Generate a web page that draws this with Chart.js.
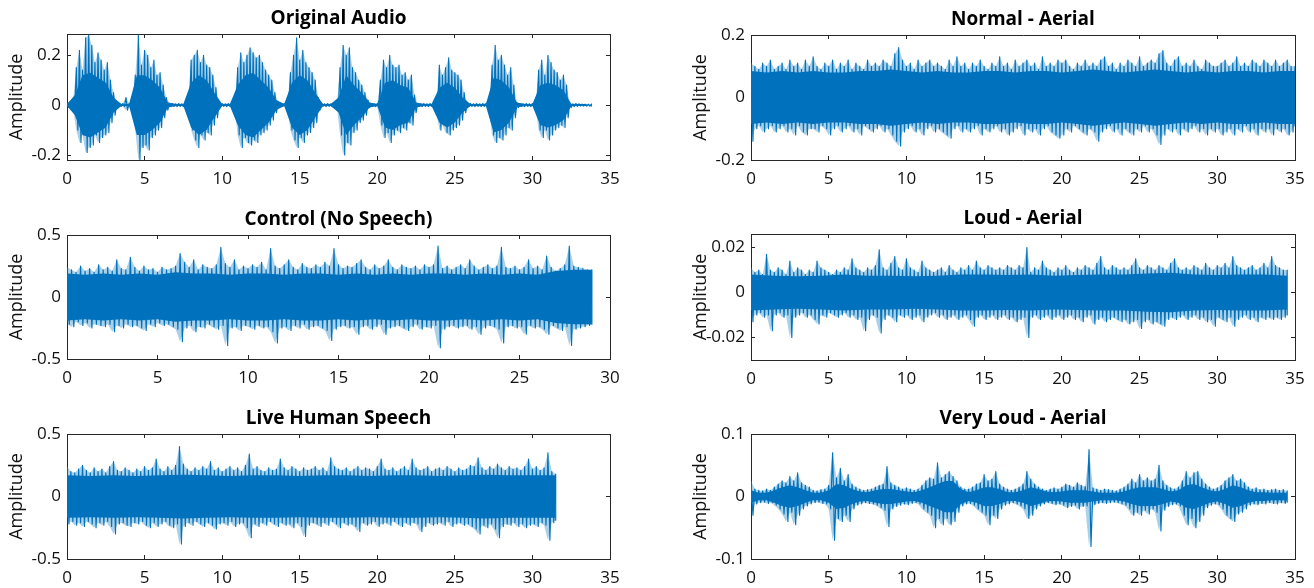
<!DOCTYPE html>
<html>
<head>
<meta charset="utf-8">
<title>Audio waveforms</title>
<script src="https://cdn.jsdelivr.net/npm/chart.js@4.4.1/dist/chart.umd.min.js"></script>
<style>
  html, body { margin: 0; padding: 0; background: #ffffff; }
  #wrap { position: relative; width: 1314px; height: 588px; overflow: hidden; background: #ffffff; }
  #wrap canvas { position: absolute; }
</style>
</head>
<body>
<div id="wrap">
  <canvas id="pOriginal"></canvas>
  <canvas id="pNormal"></canvas>
  <canvas id="pControl"></canvas>
  <canvas id="pLoud"></canvas>
  <canvas id="pLive"></canvas>
  <canvas id="pVeryLoud"></canvas>
</div>
<script>
// ---- Tick values ----
const xTicks35 = [0, 5, 10, 15, 20, 25, 30, 35];
const xTicks30 = [0, 5, 10, 15, 20, 25, 30];
const yTicksOriginal = [-0.2, 0, 0.2];
const yTicksNormal = [-0.2, 0, 0.2];
const yTicksHalf = [-0.5, 0, 0.5];
const yTicksLoud = [-0.02, 0, 0.02];
const yTicksVeryLoud = [-0.1, 0, 0.1];

// ---- Waveform peaks (upper / lower amplitude per time step) ----
// Original Audio, one value every 0.2 s
const originalHi = [
  0.010, 0.012, 0.020, 0.150, 0.220, 0.140, 0.270, 0.280, 0.240, 0.170,
  0.210, 0.180, 0.140, 0.170, 0.100, 0.050, 0.008, 0.006, 0.006, 0.030,
  0.006, 0.010, 0.120, 0.280, 0.160, 0.220, 0.200, 0.150, 0.180, 0.120,
  0.130, 0.080, 0.030, 0.008, 0.006, 0.005, 0.006, 0.005, 0.006, 0.020,
  0.180, 0.200, 0.220, 0.170, 0.200, 0.160, 0.150, 0.120, 0.070, 0.010,
  0.006, 0.005, 0.006, 0.005, 0.010, 0.150, 0.210, 0.170, 0.200, 0.230,
  0.210, 0.190, 0.200, 0.170, 0.140, 0.120, 0.100, 0.050, 0.008, 0.006,
  0.006, 0.010, 0.130, 0.200, 0.270, 0.180, 0.220, 0.170, 0.150, 0.130,
  0.100, 0.030, 0.006, 0.005, 0.006, 0.005, 0.006, 0.008, 0.150, 0.240,
  0.200, 0.230, 0.150, 0.130, 0.100, 0.080, 0.050, 0.020, 0.006, 0.005,
  0.006, 0.100, 0.180, 0.150, 0.200, 0.160, 0.150, 0.160, 0.120, 0.130,
  0.100, 0.120, 0.040, 0.006, 0.005, 0.006, 0.005, 0.006, 0.005, 0.020,
  0.160, 0.120, 0.150, 0.190, 0.140, 0.130, 0.120, 0.100, 0.050, 0.008,
  0.006, 0.005, 0.006, 0.005, 0.006, 0.006, 0.020, 0.160, 0.240, 0.180,
  0.200, 0.160, 0.120, 0.150, 0.080, 0.010, 0.006, 0.005, 0.006, 0.005,
  0.006, 0.010, 0.140, 0.180, 0.120, 0.200, 0.170, 0.140, 0.130, 0.100,
  0.120, 0.080, 0.010, 0.005, 0.006, 0.005, 0.004, 0.004, 0.004, 0.004
];
const originalLo = [
  -0.008, -0.010, -0.020, -0.100, -0.150, -0.120, -0.190, -0.170, -0.160, -0.120,
  -0.150, -0.130, -0.120, -0.110, -0.070, -0.040, -0.006, -0.005, -0.006, -0.020,
  -0.006, -0.010, -0.100, -0.220, -0.170, -0.160, -0.180, -0.130, -0.120, -0.100,
  -0.090, -0.050, -0.020, -0.006, -0.005, -0.006, -0.005, -0.006, -0.005, -0.015,
  -0.100, -0.140, -0.170, -0.120, -0.140, -0.110, -0.120, -0.080, -0.050, -0.008,
  -0.005, -0.006, -0.005, -0.006, -0.008, -0.120, -0.170, -0.130, -0.150, -0.160,
  -0.140, -0.150, -0.120, -0.110, -0.100, -0.080, -0.060, -0.030, -0.006, -0.005,
  -0.006, -0.008, -0.100, -0.140, -0.170, -0.130, -0.150, -0.120, -0.110, -0.090,
  -0.070, -0.020, -0.005, -0.006, -0.005, -0.006, -0.005, -0.008, -0.120, -0.200,
  -0.150, -0.160, -0.110, -0.100, -0.070, -0.060, -0.040, -0.010, -0.005, -0.006,
  -0.005, -0.080, -0.130, -0.110, -0.150, -0.120, -0.100, -0.110, -0.090, -0.100,
  -0.070, -0.080, -0.030, -0.005, -0.006, -0.005, -0.006, -0.005, -0.006, -0.020,
  -0.100, -0.080, -0.110, -0.120, -0.100, -0.090, -0.080, -0.060, -0.030, -0.006,
  -0.005, -0.006, -0.005, -0.006, -0.005, -0.006, -0.020, -0.120, -0.150, -0.130,
  -0.140, -0.120, -0.090, -0.100, -0.050, -0.010, -0.005, -0.006, -0.005, -0.006,
  -0.005, -0.010, -0.100, -0.130, -0.100, -0.140, -0.120, -0.100, -0.090, -0.080,
  -0.090, -0.050, -0.010, -0.006, -0.005, -0.004, -0.004, -0.004, -0.004, -0.004
];
// Dense core of the Original Audio trace (half-width), one value every 0.5 s
const originalCore = [
  0.004, 0.040, 0.120, 0.130, 0.110, 0.090, 0.030, 0.004, 0.004, 0.120,
  0.120, 0.100, 0.070, 0.010, 0.004, 0.004, 0.090, 0.120, 0.100, 0.050,
  0.004, 0.004, 0.080, 0.120, 0.130, 0.100, 0.070, 0.020, 0.004, 0.090,
  0.120, 0.100, 0.050, 0.004, 0.004, 0.030, 0.120, 0.080, 0.050, 0.010,
  0.004, 0.090, 0.100, 0.080, 0.070, 0.010, 0.004, 0.004, 0.070, 0.090,
  0.070, 0.030, 0.004, 0.004, 0.004, 0.110, 0.100, 0.070, 0.010, 0.004,
  0.004, 0.080, 0.090, 0.080, 0.060, 0.004, 0.004, 0.004
];

// Normal - Aerial, one value every 0.25 s
const normalHi = [
  0.11, 0.10, 0.09, 0.11, 0.10, 0.12, 0.09, 0.10,
  0.11, 0.09, 0.12, 0.10, 0.11, 0.09, 0.12, 0.10,
  0.13, 0.10, 0.09, 0.11, 0.10, 0.12, 0.09, 0.11,
  0.10, 0.12, 0.09, 0.11, 0.10, 0.09, 0.12, 0.10,
  0.11, 0.10, 0.12, 0.11, 0.10, 0.14, 0.16, 0.12,
  0.10, 0.11, 0.09, 0.12, 0.10, 0.11, 0.12, 0.10,
  0.11, 0.10, 0.09, 0.12, 0.10, 0.13, 0.10, 0.11,
  0.09, 0.11, 0.10, 0.12, 0.10, 0.09, 0.11, 0.10,
  0.13, 0.10, 0.11, 0.09, 0.12, 0.10, 0.11, 0.12,
  0.10, 0.11, 0.09, 0.13, 0.10, 0.11, 0.10, 0.12,
  0.11, 0.12, 0.10, 0.09, 0.11, 0.10, 0.12, 0.10,
  0.11, 0.10, 0.12, 0.13, 0.10, 0.11, 0.09, 0.11,
  0.10, 0.12, 0.11, 0.10, 0.13, 0.10, 0.11, 0.12,
  0.11, 0.14, 0.15, 0.11, 0.10, 0.12, 0.13, 0.10,
  0.11, 0.10, 0.12, 0.10, 0.09, 0.12, 0.11, 0.10,
  0.10, 0.11, 0.12, 0.10, 0.11, 0.13, 0.10, 0.11,
  0.10, 0.12, 0.11, 0.10, 0.12, 0.11, 0.10, 0.12,
  0.10, 0.11, 0.12, 0.10, 0.10
];
const normalLo = [
  -0.14, -0.10, -0.09, -0.11, -0.10, -0.09, -0.11, -0.10,
  -0.09, -0.11, -0.10, -0.12, -0.09, -0.11, -0.12, -0.10,
  -0.10, -0.11, -0.09, -0.10, -0.12, -0.10, -0.09, -0.11,
  -0.10, -0.09, -0.11, -0.10, -0.12, -0.09, -0.10, -0.11,
  -0.10, -0.09, -0.11, -0.10, -0.12, -0.14, -0.155, -0.11,
  -0.10, -0.09, -0.11, -0.10, -0.12, -0.10, -0.09, -0.11,
  -0.10, -0.11, -0.12, -0.13, -0.10, -0.09, -0.11, -0.10,
  -0.11, -0.10, -0.09, -0.12, -0.10, -0.11, -0.10, -0.09,
  -0.11, -0.10, -0.12, -0.11, -0.10, -0.09, -0.12, -0.10,
  -0.11, -0.10, -0.12, -0.10, -0.09, -0.11, -0.12, -0.13,
  -0.12, -0.10, -0.11, -0.09, -0.10, -0.11, -0.12, -0.10,
  -0.11, -0.14, -0.11, -0.10, -0.09, -0.11, -0.10, -0.12,
  -0.10, -0.11, -0.12, -0.10, -0.11, -0.09, -0.11, -0.10,
  -0.12, -0.15, -0.12, -0.10, -0.11, -0.10, -0.12, -0.10,
  -0.11, -0.10, -0.09, -0.11, -0.10, -0.12, -0.10, -0.11,
  -0.10, -0.12, -0.11, -0.10, -0.12, -0.10, -0.11, -0.09,
  -0.11, -0.10, -0.12, -0.10, -0.11, -0.10, -0.12, -0.10,
  -0.11, -0.10, -0.12, -0.11, -0.09
];
// Dense core, one value every 1 s
const normalCore = [
  0.085, 0.080, 0.085, 0.080, 0.085, 0.080, 0.080, 0.085, 0.085, 0.090,
  0.085, 0.080, 0.085, 0.080, 0.080, 0.085, 0.085, 0.080, 0.085, 0.085,
  0.080, 0.085, 0.090, 0.085, 0.080, 0.085, 0.090, 0.085, 0.080, 0.085,
  0.080, 0.085, 0.085, 0.080, 0.085, 0.085
];

// Control (No Speech), one value every 0.25 s
const controlHi = [
  0.24, 0.22, 0.20, 0.25, 0.21, 0.23, 0.20, 0.26,
  0.22, 0.24, 0.21, 0.30, 0.23, 0.22, 0.32, 0.24,
  0.21, 0.25, 0.22, 0.23, 0.20, 0.24, 0.22, 0.23,
  0.25, 0.35, 0.28, 0.24, 0.30, 0.22, 0.26, 0.24,
  0.23, 0.26, 0.40, 0.27, 0.24, 0.30, 0.22, 0.25,
  0.23, 0.26, 0.24, 0.28, 0.22, 0.39, 0.25, 0.23,
  0.26, 0.30, 0.24, 0.22, 0.27, 0.24, 0.23, 0.26,
  0.24, 0.28, 0.25, 0.39, 0.26, 0.23, 0.25, 0.24,
  0.27, 0.30, 0.24, 0.22, 0.26, 0.23, 0.25, 0.30,
  0.24, 0.22, 0.26, 0.24, 0.23, 0.25, 0.22, 0.26,
  0.24, 0.26, 0.41, 0.23, 0.25, 0.22, 0.24, 0.26,
  0.23, 0.30, 0.25, 0.22, 0.24, 0.26, 0.23, 0.25,
  0.40, 0.24, 0.23, 0.25, 0.22, 0.24, 0.30, 0.23,
  0.25, 0.22, 0.33, 0.24, 0.21, 0.23, 0.26, 0.41,
  0.25, 0.24, 0.23, 0.22, 0.22
];
const controlLo = [
  -0.22, -0.24, -0.20, -0.23, -0.21, -0.25, -0.22, -0.23,
  -0.24, -0.22, -0.28, -0.23, -0.25, -0.22, -0.24, -0.23,
  -0.25, -0.27, -0.22, -0.24, -0.21, -0.23, -0.22, -0.24,
  -0.26, -0.36, -0.25, -0.23, -0.28, -0.24, -0.25, -0.22,
  -0.24, -0.26, -0.23, -0.39, -0.25, -0.24, -0.27, -0.23,
  -0.24, -0.26, -0.23, -0.25, -0.24, -0.28, -0.37, -0.25,
  -0.24, -0.27, -0.23, -0.25, -0.22, -0.26, -0.24, -0.23,
  -0.25, -0.27, -0.35, -0.26, -0.24, -0.23, -0.25, -0.24,
  -0.30, -0.24, -0.23, -0.26, -0.24, -0.22, -0.30, -0.25,
  -0.24, -0.23, -0.25, -0.27, -0.24, -0.22, -0.26, -0.24,
  -0.25, -0.23, -0.41, -0.26, -0.24, -0.23, -0.25, -0.24,
  -0.23, -0.26, -0.24, -0.30, -0.25, -0.23, -0.24, -0.26,
  -0.37, -0.24, -0.23, -0.25, -0.24, -0.30, -0.23, -0.25,
  -0.24, -0.26, -0.30, -0.23, -0.25, -0.27, -0.24, -0.39,
  -0.26, -0.25, -0.24, -0.23, -0.22
];
// Dense core, one value every 1 s
const controlCore = [
  0.19, 0.18, 0.19, 0.18, 0.19, 0.18, 0.20, 0.19, 0.19, 0.18,
  0.19, 0.19, 0.18, 0.19, 0.19, 0.18, 0.19, 0.18, 0.19, 0.18,
  0.19, 0.19, 0.18, 0.19, 0.18, 0.19, 0.18, 0.21, 0.22, 0.22
];

// Loud - Aerial, one value every 0.25 s
const loudHi = [
  0.011, 0.009, 0.010, 0.008, 0.017, 0.010, 0.009, 0.011,
  0.010, 0.008, 0.014, 0.009, 0.011, 0.010, 0.008, 0.010,
  0.009, 0.014, 0.011, 0.010, 0.009, 0.008, 0.010, 0.009,
  0.011, 0.010, 0.015, 0.011, 0.010, 0.009, 0.011, 0.010,
  0.012, 0.019, 0.011, 0.010, 0.013, 0.016, 0.011, 0.010,
  0.015, 0.011, 0.010, 0.009, 0.014, 0.011, 0.010, 0.009,
  0.010, 0.011, 0.009, 0.012, 0.010, 0.009, 0.011, 0.010,
  0.012, 0.010, 0.014, 0.011, 0.010, 0.012, 0.011, 0.010,
  0.011, 0.010, 0.012, 0.011, 0.010, 0.012, 0.011, 0.020,
  0.009, 0.011, 0.010, 0.014, 0.011, 0.010, 0.009, 0.011,
  0.010, 0.012, 0.010, 0.009, 0.011, 0.010, 0.012, 0.011,
  0.010, 0.013, 0.016, 0.011, 0.010, 0.012, 0.011, 0.010,
  0.011, 0.010, 0.012, 0.015, 0.011, 0.010, 0.012, 0.011,
  0.010, 0.012, 0.011, 0.010, 0.013, 0.015, 0.011, 0.010,
  0.011, 0.010, 0.012, 0.011, 0.010, 0.013, 0.011, 0.010,
  0.012, 0.011, 0.013, 0.011, 0.016, 0.012, 0.011, 0.010,
  0.011, 0.012, 0.010, 0.011, 0.013, 0.011, 0.016, 0.012,
  0.011, 0.010, 0.010
];
const loudLo = [
  -0.013, -0.010, -0.009, -0.011, -0.010, -0.017, -0.010, -0.009,
  -0.011, -0.010, -0.020, -0.011, -0.010, -0.009, -0.011, -0.010,
  -0.012, -0.014, -0.010, -0.011, -0.009, -0.010, -0.011, -0.010,
  -0.009, -0.011, -0.010, -0.012, -0.011, -0.017, -0.012, -0.010,
  -0.011, -0.018, -0.012, -0.010, -0.011, -0.013, -0.010, -0.011,
  -0.010, -0.012, -0.011, -0.010, -0.013, -0.011, -0.010, -0.009,
  -0.011, -0.010, -0.012, -0.011, -0.010, -0.012, -0.011, -0.010,
  -0.012, -0.015, -0.011, -0.010, -0.012, -0.011, -0.010, -0.012,
  -0.011, -0.010, -0.012, -0.011, -0.013, -0.012, -0.011, -0.020,
  -0.011, -0.010, -0.012, -0.011, -0.010, -0.012, -0.011, -0.010,
  -0.012, -0.011, -0.010, -0.012, -0.011, -0.013, -0.011, -0.010,
  -0.014, -0.012, -0.011, -0.013, -0.012, -0.011, -0.012, -0.013,
  -0.012, -0.014, -0.013, -0.012, -0.016, -0.013, -0.012, -0.014,
  -0.013, -0.014, -0.015, -0.012, -0.011, -0.012, -0.011, -0.010,
  -0.012, -0.011, -0.010, -0.012, -0.011, -0.013, -0.012, -0.015,
  -0.011, -0.012, -0.013, -0.011, -0.015, -0.012, -0.011, -0.010,
  -0.012, -0.011, -0.013, -0.011, -0.012, -0.011, -0.012, -0.011,
  -0.012, -0.011, -0.010
];
// Dense core, one value every 1.5 s
const loudCore = [
  0.0080, 0.0075, 0.0072, 0.0075, 0.0080, 0.0075, 0.0075, 0.0072, 0.0075, 0.0080,
  0.0080, 0.0078, 0.0080, 0.0075, 0.0078, 0.0080, 0.0080, 0.0085, 0.0088, 0.0080,
  0.0078, 0.0080, 0.0080, 0.0075
];

// Live Human Speech, one value every 0.25 s
const liveHi = [
  0.24, 0.20, 0.19, 0.22, 0.25, 0.21, 0.19, 0.23,
  0.20, 0.22, 0.19, 0.24, 0.28, 0.21, 0.20, 0.23,
  0.21, 0.19, 0.22, 0.20, 0.24, 0.21, 0.23, 0.30,
  0.22, 0.20, 0.24, 0.21, 0.25, 0.40, 0.26, 0.22,
  0.20, 0.23, 0.21, 0.24, 0.22, 0.28, 0.21, 0.23,
  0.20, 0.22, 0.24, 0.21, 0.23, 0.20, 0.25, 0.34,
  0.22, 0.24, 0.21, 0.20, 0.23, 0.21, 0.22, 0.30,
  0.23, 0.21, 0.24, 0.22, 0.20, 0.23, 0.21, 0.22,
  0.24, 0.21, 0.23, 0.20, 0.31, 0.24, 0.22, 0.21,
  0.23, 0.20, 0.22, 0.24, 0.21, 0.23, 0.22, 0.20,
  0.24, 0.30, 0.22, 0.21, 0.23, 0.20, 0.22, 0.24,
  0.21, 0.30, 0.23, 0.21, 0.22, 0.24, 0.20, 0.22,
  0.23, 0.21, 0.24, 0.22, 0.20, 0.23, 0.21, 0.22,
  0.25, 0.24, 0.31, 0.23, 0.21, 0.24, 0.22, 0.26,
  0.23, 0.21, 0.24, 0.22, 0.23, 0.21, 0.24, 0.30,
  0.22, 0.24, 0.21, 0.23, 0.35, 0.20, 0.18
];
const liveLo = [
  -0.22, -0.20, -0.23, -0.21, -0.24, -0.20, -0.22, -0.25,
  -0.21, -0.23, -0.20, -0.24, -0.30, -0.22, -0.21, -0.23,
  -0.24, -0.21, -0.22, -0.20, -0.23, -0.25, -0.21, -0.24,
  -0.22, -0.20, -0.23, -0.25, -0.22, -0.38, -0.24, -0.21,
  -0.23, -0.20, -0.22, -0.24, -0.21, -0.23, -0.26, -0.22,
  -0.21, -0.23, -0.20, -0.24, -0.22, -0.21, -0.25, -0.33,
  -0.22, -0.24, -0.21, -0.23, -0.20, -0.22, -0.24, -0.21,
  -0.23, -0.22, -0.25, -0.21, -0.24, -0.32, -0.23, -0.21,
  -0.22, -0.24, -0.21, -0.23, -0.20, -0.22, -0.25, -0.21,
  -0.23, -0.22, -0.24, -0.28, -0.21, -0.23, -0.22, -0.20,
  -0.24, -0.22, -0.21, -0.23, -0.20, -0.22, -0.24, -0.21,
  -0.23, -0.21, -0.22, -0.28, -0.24, -0.21, -0.23, -0.22,
  -0.21, -0.23, -0.20, -0.24, -0.22, -0.21, -0.23, -0.22,
  -0.24, -0.26, -0.30, -0.23, -0.25, -0.22, -0.26, -0.33,
  -0.24, -0.22, -0.23, -0.21, -0.24, -0.22, -0.25, -0.23,
  -0.22, -0.24, -0.21, -0.23, -0.35, -0.21, -0.19
];
// Dense core, one value every 1.5 s
const liveCore = [
  0.170, 0.165, 0.170, 0.165, 0.170, 0.175, 0.170, 0.165, 0.170, 0.170,
  0.165, 0.170, 0.170, 0.165, 0.170, 0.170, 0.165, 0.170, 0.175, 0.170,
  0.170, 0.170
];

// Very Loud - Aerial, one value every 0.25 s
const veryLoudHi = [
  0.025, 0.012, 0.010, 0.009, 0.012, 0.010, 0.015, 0.020,
  0.025, 0.022, 0.032, 0.025, 0.038, 0.022, 0.018, 0.015,
  0.010, 0.009, 0.011, 0.012, 0.018, 0.070, 0.030, 0.045,
  0.025, 0.035, 0.020, 0.015, 0.012, 0.010, 0.011, 0.012,
  0.015, 0.018, 0.020, 0.048, 0.022, 0.018, 0.015, 0.012,
  0.014, 0.012, 0.010, 0.012, 0.018, 0.025, 0.030, 0.028,
  0.054, 0.030, 0.035, 0.040, 0.032, 0.025, 0.015, 0.012,
  0.012, 0.015, 0.020, 0.022, 0.035, 0.025, 0.028, 0.040,
  0.020, 0.015, 0.012, 0.010, 0.012, 0.015, 0.020, 0.040,
  0.028, 0.020, 0.015, 0.012, 0.010, 0.012, 0.014, 0.012,
  0.015, 0.020, 0.018, 0.015, 0.022, 0.018, 0.016, 0.075,
  0.014, 0.012, 0.010, 0.012, 0.011, 0.010, 0.009, 0.012,
  0.015, 0.020, 0.028, 0.022, 0.035, 0.025, 0.030, 0.025,
  0.028, 0.050, 0.025, 0.018, 0.014, 0.012, 0.015, 0.025,
  0.040, 0.030, 0.038, 0.040, 0.028, 0.020, 0.015, 0.012,
  0.014, 0.018, 0.025, 0.030, 0.035, 0.025, 0.028, 0.022,
  0.015, 0.012, 0.014, 0.011, 0.012, 0.010, 0.011, 0.012,
  0.010, 0.011, 0.009
];
const veryLoudLo = [
  -0.030, -0.012, -0.010, -0.009, -0.011, -0.010, -0.014, -0.020,
  -0.028, -0.040, -0.025, -0.045, -0.030, -0.020, -0.015, -0.012,
  -0.010, -0.009, -0.011, -0.012, -0.020, -0.070, -0.035, -0.040,
  -0.030, -0.040, -0.020, -0.014, -0.012, -0.010, -0.011, -0.012,
  -0.014, -0.018, -0.022, -0.048, -0.020, -0.016, -0.014, -0.012,
  -0.013, -0.011, -0.010, -0.012, -0.020, -0.025, -0.030, -0.050,
  -0.035, -0.045, -0.035, -0.045, -0.040, -0.025, -0.015, -0.012,
  -0.011, -0.014, -0.020, -0.025, -0.030, -0.045, -0.030, -0.035,
  -0.020, -0.014, -0.012, -0.010, -0.012, -0.015, -0.020, -0.035,
  -0.030, -0.020, -0.015, -0.012, -0.010, -0.011, -0.013, -0.012,
  -0.014, -0.018, -0.016, -0.014, -0.020, -0.016, -0.015, -0.080,
  -0.013, -0.011, -0.010, -0.011, -0.010, -0.009, -0.010, -0.012,
  -0.014, -0.020, -0.030, -0.025, -0.030, -0.022, -0.028, -0.020,
  -0.025, -0.055, -0.022, -0.016, -0.013, -0.012, -0.015, -0.030,
  -0.045, -0.035, -0.050, -0.040, -0.030, -0.018, -0.014, -0.012,
  -0.013, -0.020, -0.030, -0.035, -0.040, -0.028, -0.025, -0.020,
  -0.014, -0.012, -0.013, -0.011, -0.012, -0.010, -0.011, -0.012,
  -0.010, -0.011, -0.009
];
// Dense core, one value every 0.5 s
const veryLoudCore = [
  0.010, 0.006, 0.006, 0.010, 0.015, 0.018, 0.015, 0.010, 0.006, 0.006,
  0.010, 0.020, 0.018, 0.012, 0.008, 0.007, 0.010, 0.012, 0.012, 0.010,
  0.008, 0.007, 0.010, 0.015, 0.020, 0.025, 0.025, 0.012, 0.007, 0.010,
  0.015, 0.015, 0.012, 0.007, 0.007, 0.010, 0.015, 0.012, 0.008, 0.007,
  0.008, 0.010, 0.010, 0.010, 0.008, 0.006, 0.006, 0.006, 0.008, 0.012,
  0.015, 0.015, 0.015, 0.012, 0.008, 0.010, 0.018, 0.020, 0.015, 0.010,
  0.008, 0.012, 0.018, 0.015, 0.010, 0.007, 0.007, 0.006, 0.006, 0.006
];

// ---- Styling and layout ----
const WAVE = '#0072bd';
const HALO = 'rgba(0, 114, 189, 0.33)';
const INK = '#262626';
const FONT = "'Open Sans', 'Noto Sans', sans-serif";
const Y_AXIS_W = 67;     // room for y tick labels and the "Amplitude" title
const TITLE_H = 30;      // room above each plot box for its title
const X_AXIS_H = 30;     // room below each plot box for x tick labels

const panels = [
  { id: 'pOriginal', title: 'Original Audio', step: 0.2, hi: originalHi, lo: originalLo,
    core: originalCore, coreStep: 0.5,
    xMax: 35, xTicks: xTicks35, yMin: -0.22, yMax: 0.285, yTicks: yTicksOriginal,
    box: { l: 67, t: 34, r: 610, b: 160 }, padR: 30 },
  { id: 'pNormal', title: 'Normal - Aerial', step: 0.25, hi: normalHi, lo: normalLo,
    core: normalCore, coreStep: 1,
    xMax: 35, xTicks: xTicks35, yMin: -0.2, yMax: 0.2, yTicks: yTicksNormal,
    box: { l: 751, t: 35, r: 1295, b: 160 }, padR: 19 },
  { id: 'pControl', title: 'Control (No Speech)', step: 0.25, hi: controlHi, lo: controlLo,
    core: controlCore, coreStep: 1,
    xMax: 30, xTicks: xTicks30, yMin: -0.5, yMax: 0.5, yTicks: yTicksHalf,
    box: { l: 67, t: 235, r: 610, b: 359 }, padR: 30 },
  { id: 'pLoud', title: 'Loud - Aerial', step: 0.25, hi: loudHi, lo: loudLo,
    core: loudCore, coreStep: 1.5,
    xMax: 35, xTicks: xTicks35, yMin: -0.03, yMax: 0.026, yTicks: yTicksLoud,
    box: { l: 751, t: 234, r: 1295, b: 360 }, padR: 19 },
  { id: 'pLive', title: 'Live Human Speech', step: 0.25, hi: liveHi, lo: liveLo,
    core: liveCore, coreStep: 1.5,
    xMax: 35, xTicks: xTicks35, yMin: -0.5, yMax: 0.5, yTicks: yTicksHalf,
    box: { l: 67, t: 434, r: 610, b: 559 }, padR: 30 },
  { id: 'pVeryLoud', title: 'Very Loud - Aerial', step: 0.25, hi: veryLoudHi, lo: veryLoudLo,
    core: veryLoudCore, coreStep: 0.5,
    xMax: 35, xTicks: xTicks35, yMin: -0.1, yMax: 0.1, yTicks: yTicksVeryLoud,
    box: { l: 751, t: 434, r: 1295, b: 559 }, padR: 19 }
];

function fixedTicks(values) {
  return scale => { scale.ticks = values.map(v => ({ value: v })); };
}

function toPoints(values, step, sign) {
  return values.map((v, i) => ({ x: +(i * step).toFixed(3), y: sign * v }));
}

// Trace that swings from each upper reading to the matching lower reading,
// giving the spiky strokes of a sampled waveform.
function toTrace(hi, lo, step) {
  const pts = [];
  const last = hi.length - 1;
  hi.forEach((v, i) => {
    const t = i * step;
    pts.push({ x: +t.toFixed(3), y: v });
    pts.push({ x: +(i === last ? t : t + step / 2).toFixed(3), y: lo[i] });
  });
  return pts;
}

function mirrorAxis(position, min, max, ticks) {
  const horizontal = position === 'top';
  return {
    type: 'linear', position, min, max,
    afterBuildTicks: fixedTicks(ticks),
    afterFit: s => {
      if (horizontal) { s.height = 0; } else { s.width = 0; }
      s.paddingLeft = 0; s.paddingRight = 0; s.paddingTop = 0; s.paddingBottom = 0;
    },
    ticks: { display: false },
    grid: { display: true, drawOnChartArea: false, tickLength: -4, color: INK, lineWidth: 1 },
    border: { display: true, color: INK, width: 1 }
  };
}

function drawPanel(p) {
  const canvas = document.getElementById(p.id);
  const left = p.box.l - Y_AXIS_W;
  const top = p.box.t - TITLE_H;
  const width = p.box.r + p.padR - left;
  const height = p.box.b + X_AXIS_H - top;
  canvas.width = width;
  canvas.height = height;
  canvas.style.left = left + 'px';
  canvas.style.top = top + 'px';
  canvas.style.width = width + 'px';
  canvas.style.height = height + 'px';

  const area = { borderWidth: 0, pointRadius: 0, tension: 0 };

  new Chart(canvas, {
    type: 'line',
    data: {
      datasets: [
        {
          label: 'trace', data: toTrace(p.hi, p.lo, p.step), fill: false,
          borderColor: WAVE, borderWidth: 1.15, pointRadius: 0, tension: 0,
          borderJoinStyle: 'round'
        },
        Object.assign({ label: 'core upper', data: toPoints(p.core, p.coreStep, 1),
          fill: '+1', backgroundColor: WAVE }, area),
        Object.assign({ label: 'core lower', data: toPoints(p.core, p.coreStep, -1),
          fill: false }, area),
        Object.assign({ label: 'peak upper', data: toPoints(p.hi, p.step, 1),
          fill: '+1', backgroundColor: HALO }, area),
        Object.assign({ label: 'peak lower', data: toPoints(p.lo, p.step, 1),
          fill: false }, area)
      ]
    },
    options: {
      animation: false,
      responsive: false,
      devicePixelRatio: 1,
      events: [],
      layout: { padding: { left: 0, top: 0, right: p.padR, bottom: 0 } },
      plugins: {
        legend: { display: false },
        tooltip: { enabled: false },
        title: {
          display: true, fullSize: false, text: p.title, color: '#000000',
          font: { family: FONT, size: 19, weight: 'bold', lineHeight: 1.2 },
          padding: { top: 3, bottom: 4.2 }
        }
      },
      scales: {
        x: {
          type: 'linear', position: 'bottom', min: 0, max: p.xMax, offset: false,
          afterBuildTicks: fixedTicks(p.xTicks),
          afterFit: s => { s.height = X_AXIS_H; s.paddingLeft = 0; s.paddingRight = 0; },
          ticks: {
            autoSkip: false, maxRotation: 0, minRotation: 0, padding: 12.5,
            color: '#111111', font: { family: FONT, size: 17 },
            callback: v => String(v)
          },
          grid: { display: true, drawOnChartArea: false, tickLength: -4, color: INK, lineWidth: 1 },
          border: { display: true, color: INK, width: 1 }
        },
        xTop: mirrorAxis('top', 0, p.xMax, p.xTicks),
        y: {
          type: 'linear', position: 'left', min: p.yMin, max: p.yMax,
          afterBuildTicks: fixedTicks(p.yTicks),
          afterFit: s => { s.width = Y_AXIS_W; s.paddingTop = 0; s.paddingBottom = 0; },
          title: {
            display: true, text: 'Amplitude', color: '#111111',
            font: { family: FONT, size: 18, lineHeight: 1.2 },
            padding: { top: 6.2, bottom: 0 }
          },
          ticks: {
            autoSkip: false, padding: 10, color: '#111111',
            font: { family: FONT, size: 17 },
            callback: v => String(v)
          },
          grid: { display: true, drawOnChartArea: false, tickLength: -4, color: INK, lineWidth: 1 },
          border: { display: true, color: INK, width: 1 }
        },
        yRight: mirrorAxis('right', p.yMin, p.yMax, p.yTicks)
      }
    }
  });
}

panels.forEach(drawPanel);
</script>
</body>
</html>
